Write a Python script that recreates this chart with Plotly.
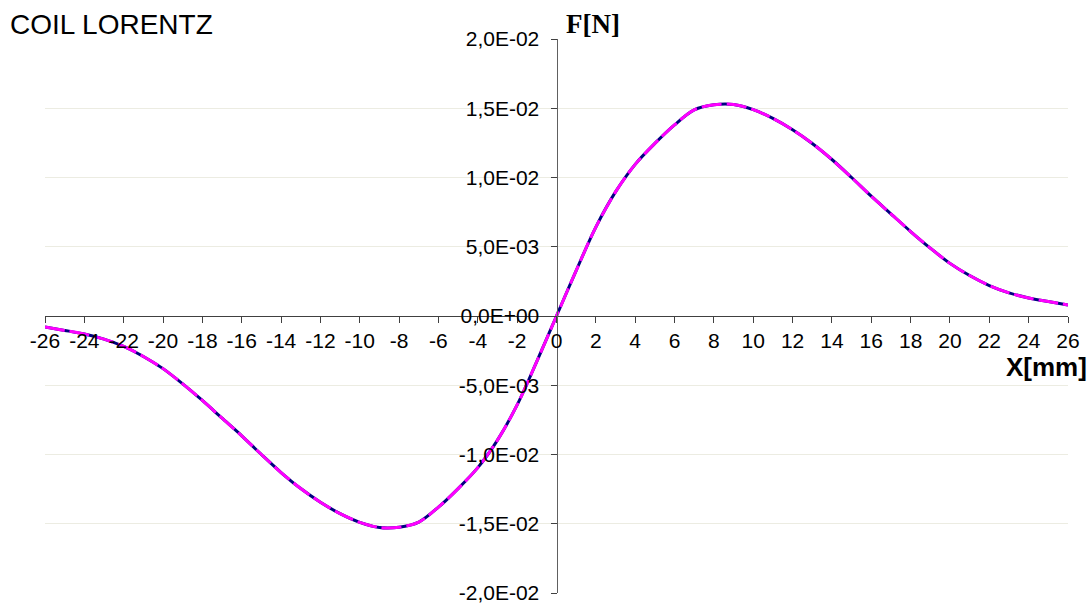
import plotly.graph_objects as go

# Axial position of the magnet relative to the coil centre [mm]
x_mm = list(range(-26, 27))

# Lorentz force on the coil [N]
force_n = [
    -0.80e-3, -1.04e-3, -1.30e-3, -1.67e-3, -2.20e-3, -2.92e-3, -3.80e-3,
    -4.90e-3, -6.10e-3, -7.38e-3, -8.65e-3, -1.000e-2, -1.130e-2, -1.246e-2,
    -1.345e-2, -1.427e-2, -1.490e-2, -1.527e-2, -1.525e-2, -1.488e-2,
    -1.380e-2, -1.246e-2, -1.095e-2, -8.96e-3, -6.42e-3, -3.28e-3,
    0.0,
    3.28e-3, 6.42e-3, 8.96e-3, 1.095e-2, 1.246e-2, 1.380e-2, 1.488e-2,
    1.525e-2, 1.527e-2, 1.490e-2, 1.427e-2, 1.345e-2, 1.246e-2, 1.130e-2,
    1.000e-2, 8.65e-3, 7.38e-3, 6.10e-3, 4.90e-3, 3.80e-3, 2.92e-3,
    2.20e-3, 1.67e-3, 1.30e-3, 1.04e-3, 0.80e-3,
]

x_tick_vals = list(range(-26, 27, 2))
x_tick_text = [str(v) for v in x_tick_vals]

y_tick_vals = [-2.0e-2, -1.5e-2, -1.0e-2, -5.0e-3, 0.0, 5.0e-3, 1.0e-2, 1.5e-2, 2.0e-2]
y_tick_text = ["-2,0E-02", "-1,5E-02", "-1,0E-02", "-5,0E-03", "0,0E+00",
               "5,0E-03", "1,0E-02", "1,5E-02", "2,0E-02"]

W, H = 1090, 603
ML, MR, MT, MB = 45, 22, 39, 10
PW, PH = W - ML - MR, H - MT - MB


def px_x(px):
    return (px - ML) / PW


def px_y(py):
    return (H - MB - py) / PH


fig = go.Figure()

# solid navy curve underneath
fig.add_trace(go.Scatter(
    x=x_mm, y=force_n, mode="lines", line_shape="spline",
    line=dict(color="#000080", width=3, smoothing=0.9), showlegend=False, hoverinfo="skip",
))
# dashed magenta curve on top
fig.add_trace(go.Scatter(
    x=x_mm, y=force_n, mode="lines", line_shape="spline",
    line=dict(color="#FF00FF", width=3, dash="20px,5px", smoothing=0.9), showlegend=False,
))

axis_font = dict(family="Liberation Sans, Arial, sans-serif", size=21, color="#000000")

fig.update_layout(
    width=W, height=H,
    margin=dict(l=ML, r=MR, t=MT, b=MB),
    paper_bgcolor="#FFFFFF", plot_bgcolor="#FFFFFF",
    xaxis=dict(
        range=[-26, 26], anchor="free", position=0.5,
        tickvals=x_tick_vals, ticktext=x_tick_text,
        showline=True, linecolor="#404040", linewidth=1,
        ticks="outside", ticklen=6, tickcolor="#404040", tickwidth=1,
        showgrid=False, zeroline=False, tickfont=axis_font,
        ticklabeloverflow="allow", automargin=False,
    ),
    yaxis=dict(
        range=[-0.02, 0.02], anchor="free", position=0.5, side="left",
        tickvals=y_tick_vals, ticktext=y_tick_text,
        showline=True, linecolor="#606060", linewidth=1,
        ticks="outside", ticklen=6, tickcolor="#404040", tickwidth=1,
        showgrid=True, gridcolor="#ECECE2", gridwidth=1,
        zeroline=False, tickfont=axis_font, ticklabelstandoff=7,
        ticklabeloverflow="allow", automargin=False,
    ),
    annotations=[
        dict(text="COIL LORENTZ", xref="paper", yref="paper",
             x=px_x(8), y=px_y(24), xanchor="left", yanchor="middle",
             showarrow=False,
             font=dict(family="Liberation Sans, Arial, sans-serif", size=28, color="#000000")),
        dict(text="<b>F[N]</b>", xref="paper", yref="paper",
             x=px_x(564), y=px_y(24), xanchor="left", yanchor="middle",
             showarrow=False,
             font=dict(family="Liberation Serif, Times New Roman, serif", size=27, color="#000000")),
        dict(text="<b>X[mm]</b>", xref="paper", yref="paper",
             x=px_x(1089), y=px_y(367), xanchor="right", yanchor="middle",
             showarrow=False,
             font=dict(family="Liberation Sans, Arial, sans-serif", size=26, color="#000000")),
    ],
)

fig.write_html("out.html")
